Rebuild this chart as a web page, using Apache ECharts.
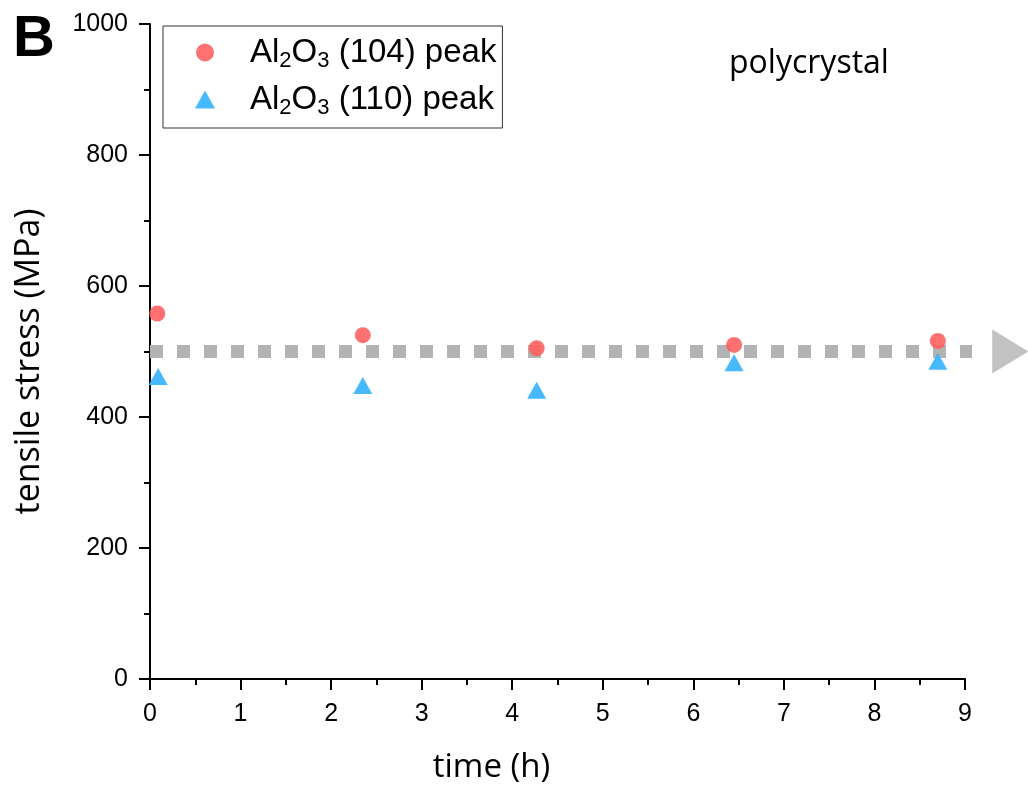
<!DOCTYPE html>
<html>
<head>
<meta charset="utf-8">
<script src="https://cdn.jsdelivr.net/npm/echarts@6/dist/echarts.min.js"></script>
<style>
html,body{margin:0;padding:0;background:#fff;}
#chart{width:1028px;height:789px;}
</style>
</head>
<body>
<div id="chart"></div>
<script>
// ---- data ----
const seriesNames = ['Al2O3 (104) peak', 'Al2O3 (110) peak'];
const time104 = [0.08, 2.35, 4.27, 6.45, 8.70];
const stress104 = [558, 525, 505, 510, 516];
const time110 = [0.09, 2.35, 4.27, 6.45, 8.70];
const stress110 = [462, 448, 441, 483, 485];
const refLineX = [0, 9.3];
const refLineY = [500, 500];
const refArrowX = [9.5];
const refArrowY = [500];
const xTicks = [0, 1, 2, 3, 4, 5, 6, 7, 8, 9];
const yTicks = [0, 200, 400, 600, 800, 1000];
const panelLabel = 'B';
const annotation = 'polycrystal';
const xTitle = 'time (h)';
const yTitle = 'tensile stress (MPa)';

const zip = (a, b) => a.map((v, i) => [v, b[i]]);

const chart = echarts.init(document.getElementById('chart'), null, {renderer: 'canvas'});

const axisFont = 'Liberation Sans, Arial, sans-serif';
const titleFont = 'Open Sans, sans-serif';

const legendFmt = (name) => {
  const m = name.match(/^Al2O3(.*)$/);
  return '{g| }{n|Al}{s|2}{n|O}{s|3}{n|' + m[1] + '}';
};

chart.setOption({
  animation: false,
  backgroundColor: '#ffffff',
  title: {
    text: panelLabel,
    left: 8, top: 6,
    textStyle: {fontFamily: axisFont, fontWeight: 'bold', fontSize: 58, color: '#000'}
  },
  graphic: [{
    type: 'text', left: 729, top: 48,
    style: {text: annotation, font: '32px "Open Sans", sans-serif', fill: '#000'}
  }],
  legend: {
    left: 163, top: 26,
    orient: 'vertical',
    data: seriesNames,
    borderColor: '#333', borderWidth: 1,
    padding: [7, 6, 9, 32],
    itemWidth: 20, itemHeight: 18,
    itemGap: 8,
    formatter: legendFmt,
    textStyle: {
      color: '#000',
      rich: {
        g: {width: 30, fontSize: 10},
        n: {fontFamily: axisFont, fontSize: 33, lineHeight: 38, color: '#000'},
        s: {fontFamily: axisFont, fontSize: 22, lineHeight: 38, color: '#000', padding: [17, 0, 0, 0]}
      }
    }
  },
  grid: {left: 150, right: 63, top: 24, bottom: 108, containLabel: false},
  xAxis: {
    type: 'value', min: xTicks[0], max: xTicks[xTicks.length - 1], interval: 1,
    name: xTitle, nameLocation: 'middle', nameGap: 72,
    nameTextStyle: {fontFamily: titleFont, fontSize: 33, color: '#000', padding: [0, 132, 0, 0]},
    axisLine: {show: true, onZero: false, lineStyle: {color: '#000', width: 2}},
    axisTick: {show: true, inside: false, length: 11, lineStyle: {color: '#000', width: 2}},
    minorTick: {show: true, splitNumber: 2, length: 6, lineStyle: {color: '#000', width: 2}},
    splitLine: {show: false},
    axisLabel: {fontFamily: axisFont, fontSize: 25, color: '#000', margin: 23}
  },
  yAxis: {
    type: 'value', min: yTicks[0], max: yTicks[yTicks.length - 1], interval: 200,
    name: yTitle, nameLocation: 'middle', nameGap: 104, nameRotate: 90,
    nameTextStyle: {fontFamily: titleFont, fontSize: 34, color: '#000', padding: [0, 20, 0, 0]},
    axisLine: {show: true, onZero: false, lineStyle: {color: '#000', width: 2}},
    axisTick: {show: true, inside: false, length: 11, lineStyle: {color: '#000', width: 2}},
    minorTick: {show: true, splitNumber: 2, length: 6, lineStyle: {color: '#000', width: 2}},
    splitLine: {show: false},
    axisLabel: {fontFamily: axisFont, fontSize: 25, color: '#000', margin: 22, formatter: (v) => String(v)}
  },
  series: [
    {
      name: 'ref', type: 'line', data: zip(refLineX, refLineY), clip: false,
      symbol: 'none', silent: true, z: 1,
      lineStyle: {color: '#b3b3b3', width: 13, type: [13, 14], cap: 'butt'}
    },
    {
      name: 'refArrow', type: 'scatter', data: zip(refArrowX, refArrowY), clip: false,
      symbol: 'triangle', symbolSize: [44, 36], symbolRotate: -90, silent: true, z: 1,
      itemStyle: {color: '#b3b3b3'}
    },
    {
      name: seriesNames[0], type: 'scatter', data: zip(time104, stress104),
      symbol: 'circle', symbolSize: 16, z: 3,
      itemStyle: {color: '#ff5c5c', opacity: 0.88}
    },
    {
      name: seriesNames[1], type: 'scatter', data: zip(time110, stress110),
      symbol: 'triangle', symbolSize: [19, 17], z: 3,
      itemStyle: {color: '#3db5ff', opacity: 0.95}
    }
  ]
});
</script>
</body>
</html>
